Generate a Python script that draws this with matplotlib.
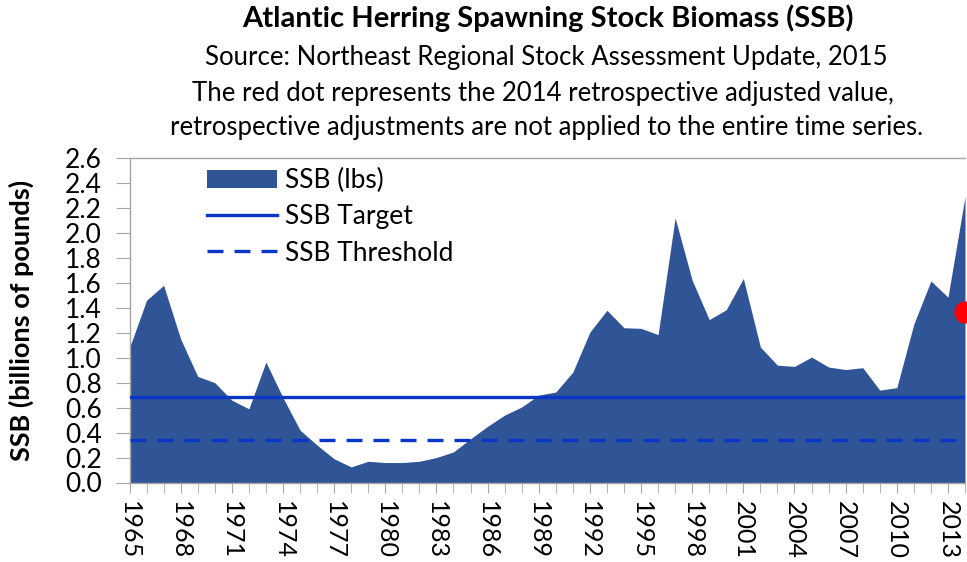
import matplotlib
matplotlib.use("Agg")
import matplotlib.pyplot as plt
from matplotlib.patches import Patch
from matplotlib.lines import Line2D

years = list(range(1965, 2015))
ssb = [1.08, 1.46, 1.58, 1.15, 0.85, 0.80, 0.66, 0.59, 0.965, 0.68,
       0.42, 0.30, 0.19, 0.125, 0.17, 0.16, 0.16, 0.17, 0.20, 0.245,
       0.35, 0.45, 0.54, 0.605, 0.70, 0.725, 0.885, 1.205, 1.38, 1.24,
       1.235, 1.185, 2.12, 1.62, 1.305, 1.385, 1.635, 1.085, 0.94, 0.93,
       1.005, 0.925, 0.905, 0.92, 0.74, 0.76, 1.27, 1.615, 1.485, 2.29]
ssb_target = 0.686
ssb_threshold = 0.343
retro_year = 2014
retro_value = 1.37
ytick_values = [round(0.2 * i, 1) for i in range(14)]
xtick_years = list(range(1965, 2014, 3))

plt.rcParams['font.family'] = ['Lato', 'DejaVu Sans']

fig = plt.figure(figsize=(9.67, 5.62), dpi=100)
ax = fig.add_axes([129.5 / 967, 1 - 482.5 / 562, (965 - 129.5) / 967, (482.5 - 158) / 562])

area_color = '#2F5597'
line_color = '#0A36C8'
dash = (0, (4.8, 3.3))

ax.fill_between(years, ssb, 0, color=area_color, lw=0, zorder=2)
ax.axhline(ssb_target, color=line_color, lw=2.4, zorder=3)
ax.axhline(ssb_threshold, color=line_color, lw=2.4, ls=dash, zorder=3)
ax.plot([retro_year], [retro_value], 'o', color='#FF0000', ms=15, clip_on=False, zorder=5)

ax.set_xlim(years[0], years[-1])
ax.set_ylim(0, 2.6)
ax.set_yticks(ytick_values)
ax.set_yticklabels([f"{v:.1f}" for v in ytick_values], fontsize=19)
ax.set_xticks(xtick_years)
ax.set_xticklabels([str(y) for y in xtick_years], rotation=-90, fontsize=18)
ax.set_xticks(years, minor=True)
ax.tick_params(axis='y', length=10, color='#A6A6A6', pad=10)
ax.tick_params(axis='x', which='both', length=7, color='#A6A6A6', pad=6)

ax.spines['right'].set_visible(False)
for s in ['left', 'top', 'bottom']:
    ax.spines[s].set_color('#A6A6A6')
    ax.spines[s].set_linewidth(1)

ax.set_ylabel('SSB (billions of pounds)', fontsize=19.5, fontweight='bold', labelpad=22)

handles = [Patch(facecolor=area_color, edgecolor='none'),
           Line2D([], [], color=line_color, lw=2.4),
           Line2D([], [], color=line_color, lw=2.4, ls=dash)]
labels = ['SSB (lbs)', 'SSB Target', 'SSB Threshold']
leg = ax.legend(handles, labels, loc='upper left', bbox_to_anchor=(0.074, 1.017),
                frameon=False, fontsize=19, handlelength=2.65, handletextpad=0.3,
                labelspacing=0.42, borderaxespad=0.2)

fig.text(0.567, 1 - 18 / 562, 'Atlantic Herring Spawning Stock Biomass (SSB)',
         ha='center', va='center', fontsize=21, fontweight='bold')
fig.text(0.565, 1 - 57 / 562, 'Source: Northeast Regional Stock Assessment Update, 2015',
         ha='center', va='center', fontsize=18.5)
fig.text(0.561, 1 - 94 / 562, 'The red dot represents the 2014 retrospective adjusted value,',
         ha='center', va='center', fontsize=18.5)
fig.text(0.565, 1 - 128 / 562, 'retrospective adjustments are not applied to the entire time series.',
         ha='center', va='center', fontsize=18.5)

fig.savefig('out.png', dpi=100)
